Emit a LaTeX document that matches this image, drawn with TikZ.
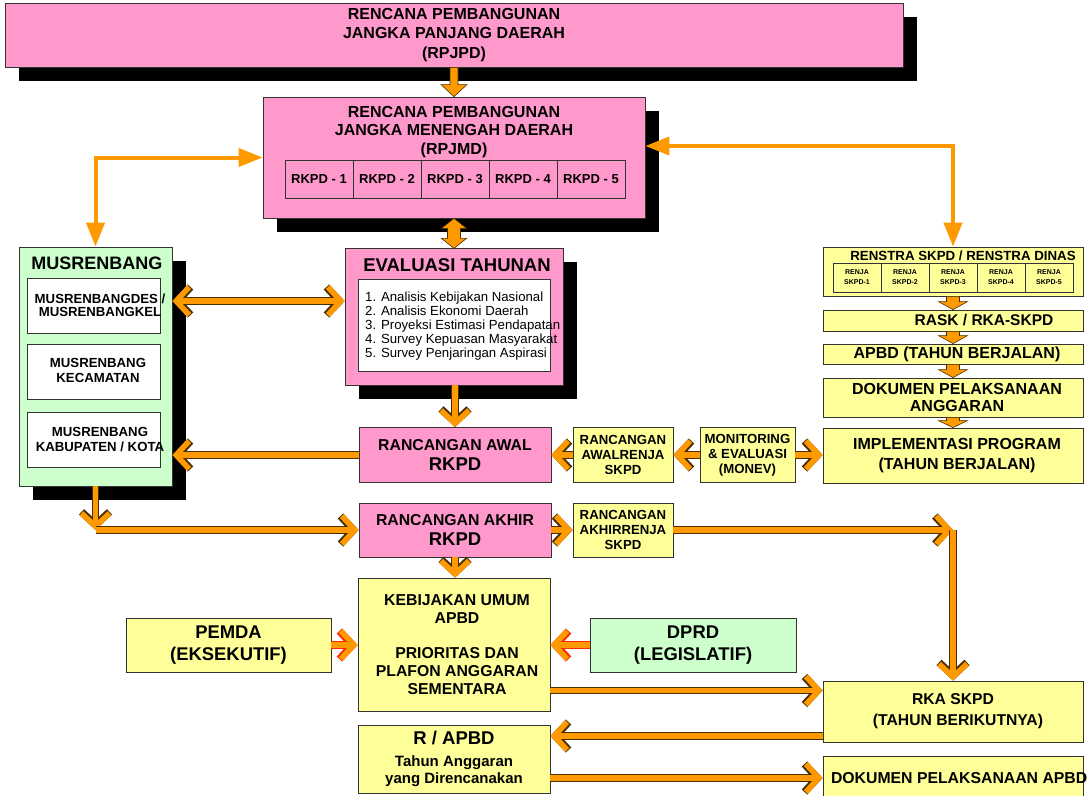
\documentclass[tikz,border=0pt]{standalone}
\usepackage{fontspec}
\setmainfont{Liberation Sans}
\usetikzlibrary{arrows.meta,calc,shadows}
\definecolor{pinkb}{HTML}{FF99CC}
\definecolor{yelb}{HTML}{FFFF99}
\definecolor{greenb}{HTML}{CCFFCC}
\definecolor{orng}{HTML}{FF9900}
\definecolor{bordc}{HTML}{333333}
\definecolor{outc}{HTML}{4A3000}
\definecolor{redo}{HTML}{FF2A00}
\newcommand\mybf[2]{\bfseries\fontsize{#1}{#2}\selectfont}
\newcommand\myrm[2]{\mdseries\fontsize{#1}{#2}\selectfont}
\newcommand\fatdown[5]{\filldraw[blockar] let \p1=(#1.south), \p2=(#2.north) in
  (\x1-#3,\y1) -- (\x1+#3,\y1) -- (\x1+#3,\y2+#5) -- (\x1+#4,\y2+#5) -- (\x1,\y2)
  -- (\x1-#4,\y2+#5) -- (\x1-#3,\y2+#5) -- cycle;}
\begin{document}
\begin{tikzpicture}[x=1pt,y=-1pt,
  box/.style={draw=bordc, line width=0.8pt, inner sep=0pt, align=center},
  pinkbox/.style={box, fill=pinkb},
  yelbox/.style={box, fill=yelb},
  grnbox/.style={box, fill=greenb},
  whbox/.style={box, fill=white},
  txt/.style={inner sep=0pt, align=center},
  shad/.style={general shadow={fill=black, shadow xshift=14pt, shadow yshift=-14pt}},
  cb/.tip={Straight Barb[length=13pt,width=28pt]},
  tt/.tip={Triangle[length=24pt,width=18pt]},
  chev/.style={draw=orng, line width=5.5pt, -cb, preaction={draw=outc, line width=7.5pt, -cb}},
  chevb/.style={draw=orng, line width=5.5pt, cb-cb, preaction={draw=outc, line width=7.5pt, cb-cb}},
  chevr/.style={draw=orng, line width=5.5pt, -cb, preaction={draw=redo, line width=7.5pt, -cb}},
  thinar/.style={draw=orng, line width=4pt, tt-tt},
  blockar/.style={fill=orng, draw=outc, line width=0.6pt, line join=miter},
]
\fill[white] (0,0) rectangle (1091,795);
\useasboundingbox (0,0) rectangle (1091,795);

% ---------- top ----------
\node[pinkbox, shad, minimum width=898pt, minimum height=64pt, font=\mybf{16}{19.5}] (rpjpd) at (454,35)
  {RENCANA PEMBANGUNAN\\JANGKA PANJANG DAERAH\\(RPJPD)};

\node[pinkbox, shad, minimum width=382pt, minimum height=121pt] (rpjmd) at (454,157.5) {};
\node[txt, font=\mybf{16}{18.5}] (rpjmdt) at (454,132) {RENCANA PEMBANGUNAN\\JANGKA MENENGAH DAERAH\\(RPJMD)};
\foreach \i/\xx in {1/319,2/387,3/455,4/523,5/591}
  \node[pinkbox, minimum width=68pt, minimum height=38pt, font=\mybf{13}{15}] (rk\i) at (\xx,179) {RKPD - \i};

% ---------- musrenbang ----------
\node[grnbox, shad, minimum width=153pt, minimum height=239pt] (musren) at (95.5,366.5) {};
\node[txt, font=\mybf{18}{20}] (musrent) at (97,263) {MUSRENBANG};
\node[whbox, minimum width=133pt, minimum height=55pt] (mdes) at (93.5,305.5) {};
\node[txt, font=\mybf{13.2}{12.8}] (mdest) at (100,305.5) {MUSRENBANGDES /\\MUSRENBANGKEL};
\node[whbox, minimum width=133pt, minimum height=55pt] (mkec) at (93.5,371.5) {};
\node[txt, font=\mybf{13.2}{15}] (mkect) at (98,370.5) {MUSRENBANG\\KECAMATAN};
\node[whbox, minimum width=133pt, minimum height=55pt] (mkab) at (93.5,439.5) {};
\node[txt, font=\mybf{13.2}{15}] (mkabt) at (100,439.5) {MUSRENBANG\\KABUPATEN / KOTA};

% ---------- evaluasi ----------
\node[pinkbox, shad, minimum width=218pt, minimum height=137pt] (eval) at (454,316.5) {};
\node[txt, font=\mybf{18.5}{20}] (evalt) at (457,265) {EVALUASI TAHUNAN};
\node[whbox, minimum width=192pt, minimum height=92pt] (evalw) at (454,325) {};
\node[txt, align=left, anchor=west, font=\myrm{13.2}{14.2}] (evall) at (365,326)
  {1. Analisis Kebijakan Nasional\\2. Analisis Ekonomi Daerah\\3. Proyeksi Estimasi Pendapatan\\4. Survey Kepuasan Masyarakat\\5. Survey Penjaringan Aspirasi};

% ---------- rancangan ----------
\node[pinkbox, minimum width=192pt, minimum height=55pt, font=\mybf{15.8}{20}] (awal) at (455,455)
  {RANCANGAN AWAL\\{\fontsize{18.5}{20}\selectfont RKPD}};
\node[pinkbox, minimum width=192pt, minimum height=54pt, font=\mybf{15.8}{20}] (akhir) at (455,530)
  {RANCANGAN AKHIR\\{\fontsize{18.5}{20}\selectfont RKPD}};
\node[yelbox, minimum width=100pt, minimum height=55pt, font=\mybf{13.2}{15}] (awalrenja) at (623,455)
  {RANCANGAN\\AWALRENJA\\SKPD};
\node[yelbox, minimum width=100pt, minimum height=54pt, font=\mybf{13.2}{15}] (akhirrenja) at (623,530)
  {RANCANGAN\\AKHIRRENJA\\SKPD};
\node[yelbox, minimum width=95pt, minimum height=55pt, font=\mybf{13.2}{15}] (monev) at (747.5,455)
  {MONITORING\\\& EVALUASI\\(MONEV)};

% ---------- right column ----------
\node[yelbox, minimum width=260pt, minimum height=49pt] (renstra) at (953,271.5) {};
\node[txt, font=\mybf{13.3}{15}] (renstrat) at (963,256) {RENSTRA SKPD / RENSTRA DINAS};
\foreach \i/\xx in {1/857,2/905,3/953,4/1001,5/1049}
  \node[yelbox, minimum width=48pt, minimum height=29pt, font=\mybf{7}{10}] (rj\i) at (\xx,277.5) {RENJA\\SKPD-\i};
\node[yelbox, minimum width=260pt, minimum height=21pt, font=\mybf{15.5}{18}] (rask) at (953,320.5) {\hspace*{62pt}RASK / RKA-SKPD};
\node[yelbox, minimum width=260pt, minimum height=20pt, font=\mybf{16}{18}] (apbd) at (953,354) {\hspace*{8pt}APBD (TAHUN BERJALAN)};
\node[yelbox, minimum width=260pt, minimum height=39pt, font=\mybf{16}{17.5}] (dok) at (953,397.5) {\hspace*{8pt}DOKUMEN PELAKSANAAN\\\hspace*{8pt}ANGGARAN};
\node[yelbox, minimum width=260pt, minimum height=55pt, font=\mybf{16}{20}] (impl) at (953,455.5) {\hspace*{8pt}IMPLEMENTASI PROGRAM\\\hspace*{8pt}(TAHUN BERJALAN)};

% ---------- bottom ----------
\node[yelbox, minimum width=192pt, minimum height=133pt, font=\mybf{15.8}{17.8}] (keb) at (454,644.5)
  {\hspace*{6pt}KEBIJAKAN UMUM\\\hspace*{6pt}APBD\\[17.8pt]\hspace*{6pt}PRIORITAS DAN\\\hspace*{6pt}PLAFON ANGGARAN\\\hspace*{6pt}SEMENTARA};
\node[yelbox, minimum width=205pt, minimum height=54pt, font=\mybf{18.4}{22}] (pemda) at (228.5,645) {PEMDA\\(EKSEKUTIF)};
\node[grnbox, minimum width=206pt, minimum height=54pt, font=\mybf{18.4}{22}] (dprd) at (693,645) {DPRD\\(LEGISLATIF)};
\node[yelbox, minimum width=260pt, minimum height=61pt, font=\mybf{15.7}{21}] (rka) at (953,711.5) {RKA SKPD\\\hspace*{10pt}(TAHUN BERIKUTNYA)};
\node[yelbox, minimum width=192pt, minimum height=68pt, font=\mybf{15}{17.5}] (rapbd) at (454,759)
  {{\fontsize{18.5}{22}\selectfont R / APBD}\\[4pt]Tahun Anggaran\\yang Direncanakan};
\node[yelbox, minimum width=260pt, minimum height=44pt, font=\mybf{15.8}{18}] (dokapbd) at (953,778)
  {\makebox[244pt][l]{DOKUMEN PELAKSANAAN APBD}};

% ---------- thin arrows ----------
\draw[thinar] (rpjmd.west) -| (musren.north);
\draw[thinar] ([yshift=11.5pt]rpjmd.east) -| (renstra.north);

% ---------- block arrows ----------
\fatdown{rpjpd}{rpjmd}{4pt}{13pt}{12pt}
\filldraw[blockar] (rpjmd.south) -- ++(12.5,10) -- ++(-6,0) -- ++(0,10) -- ++(6,0) -- ++(-12.5,10)
  -- ++(-12.5,-10) -- ++(6,0) -- ++(0,-10) -- ++(-6,0) -- cycle;
\fatdown{renstra}{rask}{6.5pt}{14.5pt}{8pt}
\fatdown{rask}{apbd}{6.5pt}{14.5pt}{8pt}
\fatdown{apbd}{dok}{6.5pt}{14.5pt}{8pt}
\fatdown{dok}{impl}{6.5pt}{14.5pt}{7pt}

% ---------- chevron arrows ----------
\draw[chevb] ($(musren.east |- mdes.center)+(0,-4.5)$) -- ($(eval.west |- mdes.center)+(0,-4.5)$);
\draw[chev] (awal.north |- eval.south) -- (awal.north);
\draw[chev] (awal.west) -- (musren.east |- awal.west);
\draw[chev] (musren.south) -- (musren.south |- akhir.west);
\draw[chev] (musren.south |- akhir.west) -- (akhir.west);
\draw[chev] (akhir.south) -- (akhir.south |- keb.north);
\draw[chev] (akhir.east) -- (akhirrenja.west);
\draw[chev] (akhirrenja.east) -- (rka.north |- akhirrenja.east);
\draw[chev] (rka.north |- akhirrenja.east) -- (rka.north);
\draw[chev] (awalrenja.west) -- (awal.east);
\draw[chev] (monev.west) -- (awalrenja.east |- monev.west);
\draw[chev] (monev.east) -- (impl.west |- monev.east);
\draw[chevr] (pemda.east) -- (keb.west |- pemda.east);
\draw[chevr] (dprd.west) -- (keb.east |- dprd.west);
\path ([yshift=-46pt]keb.east) coordinate (k1);
\draw[chev] (k1) -- (k1 -| rka.west);
\path ([yshift=-24.5pt]rka.west) coordinate (r1);
\draw[chev] (r1) -- (r1 -| rapbd.east);
\draw[chev] (rapbd.east |- dokapbd.west) -- (dokapbd.west);
\end{tikzpicture}
\end{document}
